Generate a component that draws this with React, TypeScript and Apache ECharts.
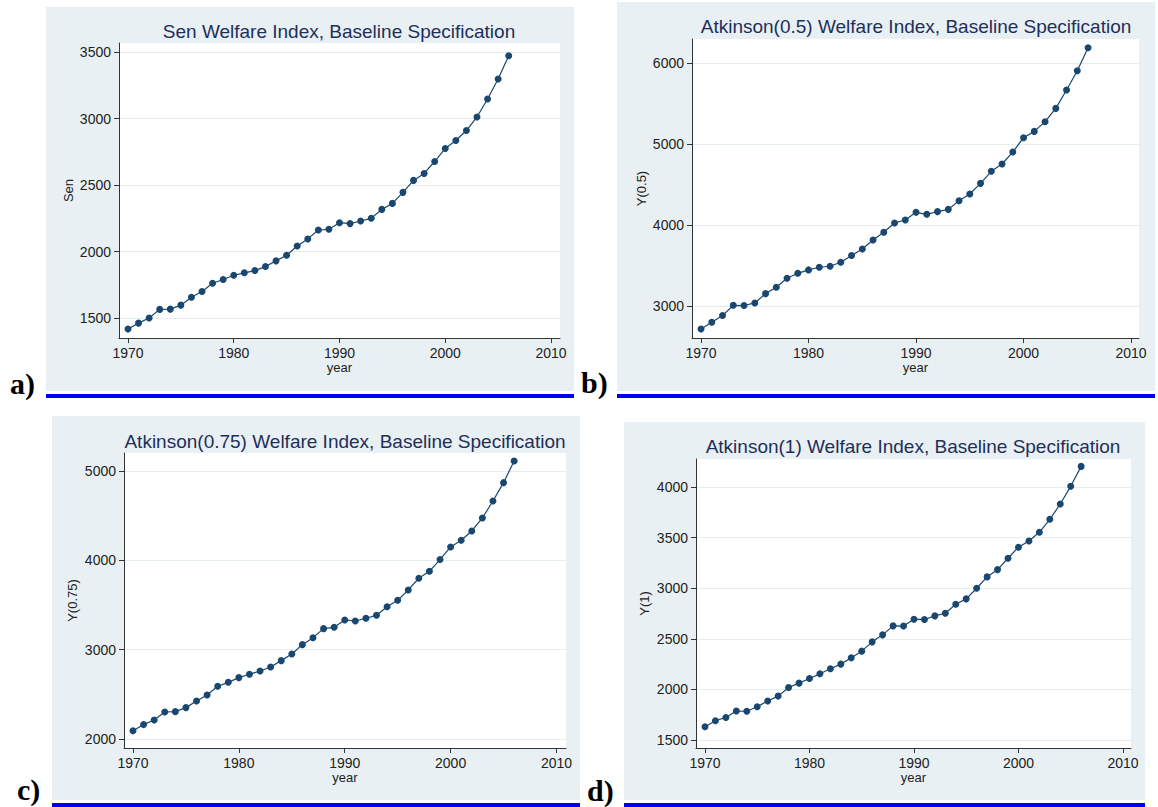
import React, { useEffect, useRef } from "react";
import * as echarts from "echarts";

// years on the x axis, one point per year
const years = [
  1970, 1971, 1972, 1973, 1974, 1975, 1976, 1977, 1978, 1979,
  1980, 1981, 1982, 1983, 1984, 1985, 1986, 1987, 1988, 1989,
  1990, 1991, 1992, 1993, 1994, 1995, 1996, 1997, 1998, 1999,
  2000, 2001, 2002, 2003, 2004, 2005, 2006,
];
const xTicks = [1970, 1980, 1990, 2000, 2010];

const senValues = [
  1418, 1462, 1500, 1565, 1567, 1597, 1657, 1700, 1762, 1790,
  1822, 1840, 1857, 1887, 1930, 1972, 2042, 2095, 2162, 2167,
  2217, 2210, 2230, 2250, 2317, 2362, 2445, 2535, 2587, 2677,
  2775, 2835, 2910, 3012, 3147, 3297, 3472,
];
const atk05Values = [
  2716, 2799, 2881, 3008, 3005, 3037, 3152, 3231, 3342, 3403,
  3445, 3478, 3490, 3539, 3622, 3704, 3815, 3910, 4025, 4062,
  4156, 4132, 4165, 4193, 4300, 4383, 4514, 4663, 4753, 4901,
  5078, 5156, 5276, 5440, 5667, 5905, 6189,
];
const atk075Values = [
  2093, 2161, 2213, 2302, 2306, 2351, 2426, 2493, 2590, 2634,
  2687, 2724, 2761, 2806, 2877, 2952, 3056, 3134, 3235, 3250,
  3332, 3321, 3351, 3384, 3481, 3552, 3668, 3799, 3877, 4008,
  4149, 4224, 4328, 4474, 4664, 4869, 5112,
];
const atk1Values = [
  1631, 1690, 1723, 1786, 1784, 1829, 1885, 1934, 2019, 2062,
  2108, 2154, 2204, 2250, 2312, 2378, 2470, 2539, 2628, 2626,
  2694, 2691, 2727, 2753, 2842, 2895, 3000, 3112, 3184, 3296,
  3405, 3467, 3553, 3681, 3832, 4007, 4204,
];

const senTicks = [1500, 2000, 2500, 3000, 3500];
const atk05Ticks = [3000, 4000, 5000, 6000];
const atk075Ticks = [2000, 3000, 4000, 5000];
const atk1Ticks = [1500, 2000, 2500, 3000, 3500, 4000];

const titles = [
  "Sen Welfare Index, Baseline Specification",
  "Atkinson(0.5) Welfare Index, Baseline Specification",
  "Atkinson(0.75) Welfare Index, Baseline Specification",
  "Atkinson(1) Welfare Index, Baseline Specification",
];
const yNames = ["Sen", "Y(0.5)", "Y(0.75)", "Y(1)"];
const letters = ["a)", "b)", "c)", "d)"];
const seriesValues = [senValues, atk05Values, atk075Values, atk1Values];
const seriesTicks = [senTicks, atk05Ticks, atk075Ticks, atk1Ticks];

// layout of the four panels (pixels)
const layout = [
  { grid: [119, 43, 441, 295], x: [1969.15, 2010.85], y: [1350, 3568], bg: [46, 7, 528, 384], bar: [46, 394, 528, 4], title: [339, 31], letter: [10, 383], nameGap: 44 },
  { grid: [692, 39, 447, 299], x: [1969.16, 2010.74], y: [2604, 6297], bg: [617, 2, 538, 389], bar: [617, 394, 538, 4], title: [916, 26], letter: [581, 382], nameGap: 44 },
  { grid: [124, 453, 442, 295], x: [1969.15, 2010.9], y: [1899, 5201], bg: [52, 416, 528, 384], bar: [52, 803, 528, 4], title: [345, 441], letter: [17, 789], nameGap: 45 },
  { grid: [696, 459, 435, 289], x: [1969.14, 2010.77], y: [1421, 4277], bg: [624, 422, 521, 378], bar: [624, 803, 521, 4], title: [913, 446], letter: [587, 790], nameGap: 45 },
];

const BG = "#e9f0f3";
const NAVY = "#1a476f";
const TITLE = "#1e2f5a";
const BLUE = "#0000ee";
const AXIS = "#333333";
const FONT = '"Liberation Sans", Arial, sans-serif';

const plain = (v: number) => String(v);

export default function App() {
  const chartRef = useRef<HTMLDivElement>(null);

  useEffect(() => {
    if (!chartRef.current) return;
    const chart = echarts.init(chartRef.current, undefined, { renderer: "svg" });

    const graphic: any[] = [];
    layout.forEach((p, i) => {
      graphic.push({
        type: "rect", z: -1, silent: true,
        shape: { x: p.bg[0], y: p.bg[1], width: p.bg[2], height: p.bg[3] },
        style: { fill: BG },
      });
      graphic.push({
        type: "rect", z: 5, silent: true,
        shape: { x: p.bar[0], y: p.bar[1], width: p.bar[2], height: p.bar[3] },
        style: { fill: BLUE },
      });
      graphic.push({
        type: "text", z: 10, x: p.title[0], y: p.title[1],
        style: {
          text: titles[i], fill: TITLE, font: `19px ${FONT}`,
          textAlign: "center", textVerticalAlign: "middle", align: "center", verticalAlign: "middle",
        },
      });
      graphic.push({
        type: "text", z: 10, x: p.letter[0], y: p.letter[1],
        style: {
          text: letters[i], fill: "#000", font: `bold 30px "Liberation Serif", "Times New Roman", serif`,
          textAlign: "left", textVerticalAlign: "middle", align: "left", verticalAlign: "middle",
        },
      });
    });

    const option: any = {
      animation: false,
      textStyle: { fontFamily: FONT },
      graphic: { elements: graphic },
      grid: layout.map((p) => ({
        left: p.grid[0], top: p.grid[1], width: p.grid[2], height: p.grid[3],
        show: true, backgroundColor: "#ffffff", borderWidth: 0, containLabel: false,
      })),
      xAxis: layout.map((p, i) => ({
        type: "value", gridIndex: i, min: p.x[0], max: p.x[1],
        name: "year", nameLocation: "middle", nameGap: 23,
        nameTextStyle: { color: "#222", fontSize: 13, fontFamily: FONT },
        axisLine: { show: true, onZero: false, lineStyle: { color: AXIS, width: 1 } },
        axisTick: { show: true, length: 5, lineStyle: { color: AXIS }, customValues: xTicks },
        axisLabel: { color: "#222", fontSize: 14, margin: 8, customValues: xTicks, fontFamily: FONT, formatter: plain },
        splitLine: { show: false },
      })),
      yAxis: layout.map((p, i) => ({
        type: "value", gridIndex: i, min: p.y[0], max: p.y[1],
        name: yNames[i], nameLocation: "middle", nameGap: p.nameGap,
        nameTextStyle: { color: "#222", fontSize: 13, fontFamily: FONT },
        axisLine: { show: true, onZero: false, lineStyle: { color: AXIS, width: 1 } },
        axisTick: { show: true, length: 5, lineStyle: { color: AXIS }, customValues: seriesTicks[i] },
        axisLabel: { color: "#222", fontSize: 14, margin: 8, customValues: seriesTicks[i], fontFamily: FONT, formatter: plain },
        splitLine: { show: true, lineStyle: { color: "#e4edf0", width: 1 } },
      })),
      series: seriesValues.map((vals, i) => ({
        type: "line", xAxisIndex: i, yAxisIndex: i,
        data: years.map((yr, k) => [yr, vals[k]]),
        symbol: "circle", symbolSize: 7,
        itemStyle: { color: NAVY },
        lineStyle: { color: NAVY, width: 1.2 },
        z: 3,
      })),
    };

    chart.setOption(option);
    return () => chart.dispose();
  }, []);

  return (
    <div
      ref={chartRef}
      style={{ position: "fixed", left: 0, top: 0, width: 1158, height: 807, background: "#ffffff" }}
    />
  );
}
